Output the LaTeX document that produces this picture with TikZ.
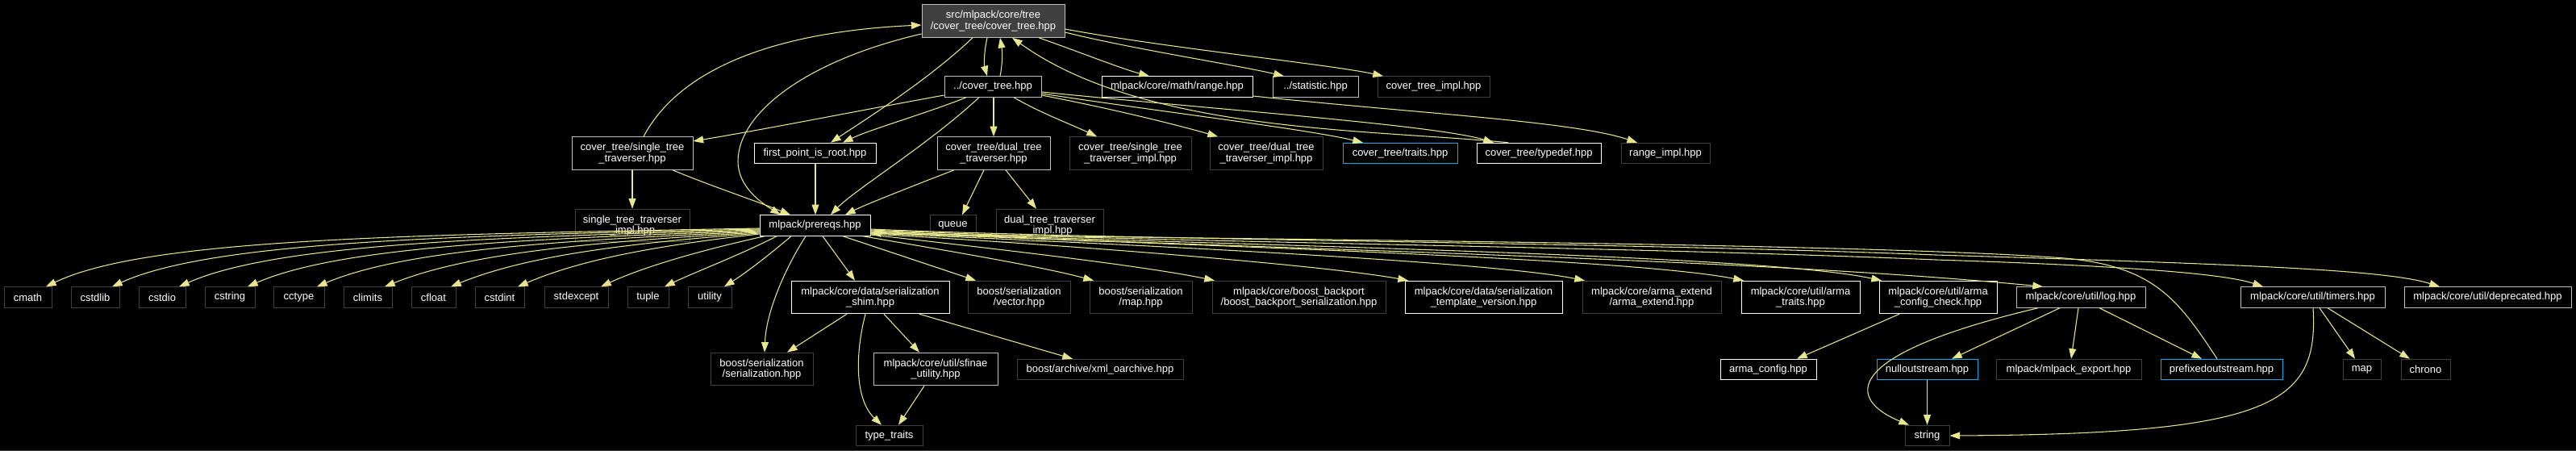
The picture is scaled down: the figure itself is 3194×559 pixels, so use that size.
\documentclass[tikz,border=0pt]{standalone}
\usepackage{fontspec}
\setmainfont{Liberation Sans}
\usetikzlibrary{arrows.meta}
\definecolor{edgec}{HTML}{E6E68F}
\definecolor{lgc}{HTML}{BFBFBF}
\definecolor{dkc}{HTML}{404040}
\begin{document}
\begin{tikzpicture}[x=0.75pt, y=-0.75pt,
  font=\fontsize{9.75pt}{10pt}\selectfont,
  nd/.style={draw, line width=0.75pt, inner sep=0pt, text=white, align=center, minimum height=19.1pt, fill=black},
  two/.style={minimum height=30.4pt},
  wh/.style={draw=white},
  lg/.style={draw=lgc},
  dk/.style={draw=dkc},
  cy/.style={draw=cyan},
  edge/.style={draw=edgec, line width=0.8pt, -{Triangle[length=9.5pt,width=6.7pt]}}]
\fill[black] (0,0) rectangle (3194,559);
\useasboundingbox (0,0) rectangle (3194,559);
\draw[color=dkc, line width=0.75pt] (0,558.5) -- (3194,558.5);

% row 0
\node[nd, two, draw=lgc, fill=dkc, minimum width=132.75pt] (main) at (1231.5,26) {src/mlpack/core/tree\\/cover\_tree/cover\_tree.hpp};
% row 1
\node[nd, lg, minimum width=90pt] (ct) at (1231,107.5) {../cover\_tree.hpp};
\node[nd, wh, minimum width=140.25pt] (range) at (1459.5,107.5) {mlpack/core/math/range.hpp};
\node[nd, lg, minimum width=79.5pt] (stat) at (1631,107.5) {../statistic.hpp};
\node[nd, dk, minimum width=104.25pt] (ctimpl) at (1777.5,107.5) {cover\_tree\_impl.hpp};
% row 2
\node[nd, two, lg, minimum width=112.5pt] (stt) at (784,190) {cover\_tree/single\_tree\\\_traverser.hpp};
\node[nd, wh, minimum width=113.25pt] (fpr) at (1010.5,190) {first\_point\_is\_root.hpp};
\node[nd, two, lg, minimum width=105pt] (dtt) at (1232,190) {cover\_tree/dual\_tree\\\_traverser.hpp};
\node[nd, two, dk, minimum width=113.25pt] (stti) at (1401.5,190) {cover\_tree/single\_tree\\\_traverser\_impl.hpp};
\node[nd, two, dk, minimum width=105pt] (dtti) at (1570,190) {cover\_tree/dual\_tree\\\_traverser\_impl.hpp};
\node[nd, cy, minimum width=106.5pt] (traits) at (1736,190) {cover\_tree/traits.hpp};
\node[nd, wh, minimum width=115.5pt] (typedef) at (1908,190) {cover\_tree/typedef.hpp};
\node[nd, dk, minimum width=82.5pt] (rimpl) at (2065,190) {range\_impl.hpp};
% row 3
\node[nd, two, dk, minimum width=106.5pt] (sti) at (784,279.5) {single\_tree\_traverser\\\_impl.hpp};
\node[nd, wh, minimum width=102.75pt] (prereqs) at (1010.5,279.5) {mlpack/prereqs.hpp};
\node[nd, dk, minimum width=42.75pt] (queue) at (1181.5,279.5) {queue};
\node[nd, two, dk, minimum width=99.75pt] (dti) at (1301.5,279.5) {dual\_tree\_traverser\\\_impl.hpp};
% row 4
\node[nd, dk, minimum width=44.25pt] (cmath) at (34.5,368.5) {cmath};
\node[nd, dk, minimum width=45pt] (cstdlib) at (118,368.5) {cstdlib};
\node[nd, dk, minimum width=43.5pt] (cstdio) at (201,368.5) {cstdio};
\node[nd, dk, minimum width=46.5pt] (cstring) at (285,368.5) {cstring};
\node[nd, dk, minimum width=47.25pt] (cctype) at (370.5,368.5) {cctype};
\node[nd, dk, minimum width=45pt] (climits) at (456,368.5) {climits};
\node[nd, dk, minimum width=41.25pt] (cfloat) at (537.5,368.5) {cfloat};
\node[nd, dk, minimum width=45.75pt] (cstdint) at (619.5,368.5) {cstdint};
\node[nd, dk, minimum width=59.25pt] (stdexcept) at (714.5,368.5) {stdexcept};
\node[nd, dk, minimum width=38.25pt] (tuple) at (803.5,368.5) {tuple};
\node[nd, dk, minimum width=40.5pt] (utility) at (880,368.5) {utility};
\node[nd, two, wh, minimum width=147pt] (shim) at (1079,368.5) {mlpack/core/data/serialization\\\_shim.hpp};
\node[nd, two, dk, minimum width=95.25pt] (vector) at (1263.5,368.5) {boost/serialization\\/vector.hpp};
\node[nd, two, dk, minimum width=95.25pt] (mapb) at (1414.5,368.5) {boost/serialization\\/map.hpp};
\node[nd, two, dk, minimum width=161.25pt] (backport) at (1610.5,368.5) {mlpack/core/boost\_backport\\/boost\_backport\_serialization.hpp};
\node[nd, two, wh, minimum width=146.25pt] (tmplver) at (1839.5,368.5) {mlpack/core/data/serialization\\\_template\_version.hpp};
\node[nd, two, dk, minimum width=129pt] (armaext) at (2048,368.5) {mlpack/core/arma\_extend\\/arma\_extend.hpp};
\node[nd, two, wh, minimum width=110.25pt] (armatraits) at (2232.5,368.5) {mlpack/core/util/arma\\\_traits.hpp};
\node[nd, two, wh, minimum width=109.5pt] (armacc) at (2403,368.5) {mlpack/core/util/arma\\\_config\_check.hpp};
\node[nd, lg, minimum width=120pt] (log) at (2580,368.5) {mlpack/core/util/log.hpp};
\node[nd, lg, minimum width=134.25pt] (timers) at (2867.5,368.5) {mlpack/core/util/timers.hpp};
\node[nd, lg, minimum width=155.25pt] (deprecated) at (3084.5,368.5) {mlpack/core/util/deprecated.hpp};
% row 5
\node[nd, two, dk, minimum width=95.25pt] (sers) at (944.5,457.5) {boost/serialization\\/serialization.hpp};
\node[nd, two, lg, minimum width=115.5pt] (sfinae) at (1160,457.5) {mlpack/core/util/sfinae\\\_utility.hpp};
\node[nd, dk, minimum width=154.5pt] (xml) at (1364,458) {boost/archive/xml\_oarchive.hpp};
\node[nd, wh, minimum width=89.25pt] (armaconfig) at (2192.5,458) {arma\_config.hpp};
\node[nd, cy, minimum width=93.75pt] (nullout) at (2389.5,458) {nulloutstream.hpp};
\node[nd, dk, minimum width=135pt] (export) at (2565,458) {mlpack/mlpack\_export.hpp};
\node[nd, cy, minimum width=113.25pt] (prefixed) at (2754.5,458) {prefixedoutstream.hpp};
\node[nd, dk, minimum width=35.25pt] (mapstd) at (2928.5,458) {map};
\node[nd, dk, minimum width=45.75pt] (chrono) at (3007.5,458) {chrono};
% row 6
\node[nd, dk, minimum width=62.25pt] (typetraits) at (1102.5,540) {type\_traits};
\node[nd, dk, minimum width=41.25pt] (string) at (2389.5,540) {string};

% edges from main / ct
\draw[edge] (main.south -| 1224,0) .. controls (1220,65) and (1220,80) .. (ct.north -| 1224,0);
\draw[edge] (ct.north -| 1240,0) .. controls (1243,80) and (1243,65) .. (main.south -| 1240,0);
\draw[edge] (main.south -| 1206,0) .. controls (1150,100) and (1070,150) .. (fpr.north -| 1030,0);
\draw[edge] (main.west |- 0,42) .. controls (1000,75) and (915,140) .. (915,200) .. controls (915,232) and (945,252) .. (prereqs.north -| 968,0);
\draw[edge] (stt.north -| 798,0) .. controls (840,90) and (950,40) .. (main.west |- 0,31);
\draw[edge] (main.south -| 1288,0) .. controls (1340,65) and (1390,85) .. (range.north -| 1425,0);
\draw[edge] (main.east |- 0,40) .. controls (1400,60) and (1530,80) .. (stat.north -| 1592,0);
\draw[edge] (main.east |- 0,36) .. controls (1450,60) and (1650,80) .. (ctimpl.north -| 1715,0);
\draw[edge] (typedef.north -| 1870,0) .. controls (1700,160) and (1420,165) .. (main.south -| 1255,0);
\draw[edge] (ct.west |- 0,118) .. controls (1050,140) and (950,160) .. (stt.east |- 0,175);
\draw[edge] (ct.south -| 1198,0) .. controls (1150,140) and (1080,160) .. (fpr.north -| 1045,0);
\draw[edge] (ct.south -| 1214,0) .. controls (1150,180) and (1060,235) .. (prereqs.north -| 1030,0);
\draw[edge] (ct.south -| 1232,0) -- (dtt.north -| 1232,0);
\draw[edge] (ct.south -| 1257,0) .. controls (1290,140) and (1330,155) .. (stti.north -| 1360,0);
\draw[edge] (ct.east |- 0,118) .. controls (1380,135) and (1460,155) .. (dtti.north -| 1510,0);
\draw[edge] (ct.east |- 0,116) .. controls (1450,140) and (1620,160) .. (traits.north -| 1690,0);
\draw[edge] (ct.east |- 0,114) .. controls (1500,135) and (1780,155) .. (typedef.north -| 1852,0);
\draw[edge] (range.east |- 0,119) .. controls (1750,140) and (1950,150) .. (rimpl.north -| 2030,0);

% row 2 -> row 3
\draw[edge] (stt.south -| 784,0) -- (sti.north -| 784,0);
\draw[edge] (stt.south -| 834,0) .. controls (880,230) and (940,250) .. (prereqs.north -| 980,0);
\draw[edge] (fpr.south -| 1011,0) -- (prereqs.north -| 1011,0);
\draw[edge] (dtt.south -| 1183,0) .. controls (1120,235) and (1070,255) .. (prereqs.north -| 1048,0);
\draw[edge] (dtt.south -| 1220,0) -- (queue.north -| 1193,0);
\draw[edge] (dtt.south -| 1247,0) -- (dti.north -| 1285,0);

% prereqs -> row 4
\draw[edge] (prereqs.west |- 0,283) .. controls (500,291) and (180,296) .. (cmath.north -| 57,0);
\draw[edge] (prereqs.west |- 0,284) .. controls (550,292) and (260,300) .. (cstdlib.north -| 139,0);
\draw[edge] (prereqs.west |- 0,285) .. controls (600,294) and (340,303) .. (cstdio.north -| 222,0);
\draw[edge] (prereqs.west |- 0,286) .. controls (650,296) and (420,306) .. (cstring.north -| 307,0);
\draw[edge] (prereqs.west |- 0,287) .. controls (690,298) and (500,310) .. (cctype.north -| 393,0);
\draw[edge] (prereqs.west |- 0,288) .. controls (730,300) and (580,314) .. (climits.north -| 477,0);
\draw[edge] (prereqs.west |- 0,289) .. controls (770,302) and (650,318) .. (cfloat.north -| 559,0);
\draw[edge] (prereqs.west |- 0,290) .. controls (810,305) and (720,322) .. (cstdint.north -| 642,0);
\draw[edge] (prereqs.south -| 948,0) .. controls (870,310) and (800,330) .. (stdexcept.north -| 745,0);
\draw[edge] (prereqs.south -| 963,0) .. controls (920,315) and (860,338) .. (tuple.north -| 824,0);
\draw[edge] (prereqs.south -| 981,0) .. controls (955,315) and (925,338) .. (utility.north -| 898,0);
\draw[edge] (prereqs.south -| 999,0) .. controls (975,330) and (950,385) .. (sers.north -| 948,0);
\draw[edge] (prereqs.south -| 1020,0) -- (shim.north -| 1060,0);
\draw[edge] (prereqs.south -| 1045,0) -- (vector.north -| 1210,0);
\draw[edge] (prereqs.south -| 1070,0) .. controls (1170,310) and (1290,330) .. (mapb.north -| 1356,0);
\draw[edge] (prereqs.east |- 0,291) .. controls (1250,310) and (1420,330) .. (backport.north -| 1506,0);
\draw[edge] (prereqs.east |- 0,290) .. controls (1350,305) and (1650,330) .. (tmplver.north -| 1746,0);
\draw[edge] (prereqs.east |- 0,289) .. controls (1450,305) and (1850,325) .. (armaext.north -| 1965,0);
\draw[edge] (prereqs.east |- 0,288) .. controls (1500,305) and (2020,320) .. (armatraits.north -| 2162,0);
\draw[edge] (prereqs.east |- 0,287) .. controls (1550,305) and (2180,315) .. (armacc.north -| 2333,0);
\draw[edge] (prereqs.east |- 0,286) .. controls (1500,308) and (2150,318) .. (log.north -| 2533,0);
\draw[edge] (prereqs.east |- 0,285) .. controls (1400,300) and (2000,305) .. (2400,322) .. controls (2650,330) and (2760,340) .. (timers.north -| 2806,0);
\draw[edge] (prereqs.east |- 0,284) .. controls (1400,298) and (2000,300) .. (2400,316) .. controls (2800,328) and (2960,335) .. (deprecated.north -| 3025,0);
\draw[edge] (prefixed.north -| 2749,0) .. controls (2700,370) and (2670,330) .. (2560,320) .. controls (2300,300) and (1400,296) .. (prereqs.east |- 0,289);

% row 4 -> row 5/6
\draw[edge] (shim.south -| 1050,0) -- (sers.north -| 976,0);
\draw[edge] (shim.south -| 1073,0) .. controls (1060,440) and (1060,495) .. (typetraits.north -| 1093,0);
\draw[edge] (shim.south -| 1096,0) -- (sfinae.north -| 1140,0);
\draw[edge] (shim.south -| 1140,0) -- (xml.north -| 1330,0);
\draw[edge] (sfinae.south -| 1146,0) -- (typetraits.north -| 1114,0);
\draw[edge] (armacc.south -| 2355,0) -- (armaconfig.north -| 2228,0);
\draw[edge] (log.south -| 2527,0) .. controls (2280,440) and (2290,495) .. (string.north -| 2367,0);
\draw[edge] (log.south -| 2554,0) -- (nullout.north -| 2420,0);
\draw[edge] (log.south -| 2577,0) -- (export.north -| 2568,0);
\draw[edge] (log.south -| 2603,0) -- (prefixed.north -| 2730,0);
\draw[edge] (nullout.south -| 2389.5,0) -- (string.north -| 2389.5,0);
\draw[edge] (timers.south -| 2868,0) .. controls (2875,500) and (2820,538) .. (string.east |- 0,540);
\draw[edge] (timers.south -| 2876,0) -- (mapstd.north -| 2920,0);
\draw[edge] (timers.south -| 2886,0) -- (chrono.north -| 2988,0);
\end{tikzpicture}
\end{document}
